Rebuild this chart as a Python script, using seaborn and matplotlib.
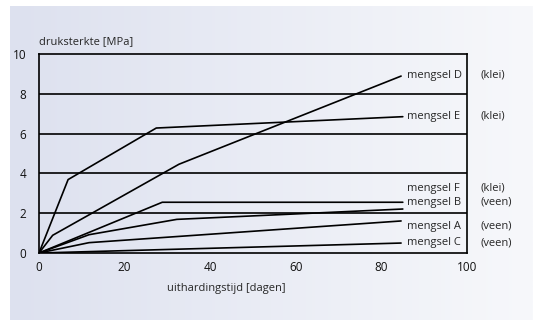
import numpy as np
import pandas as pd
import matplotlib
matplotlib.use("Agg")
import matplotlib.pyplot as plt
import seaborn as sns

mix_D_x = [0, 3.2, 32.7, 84.6]
mix_D_y = [0, 0.89, 4.46, 8.89]
mix_E_x = [0, 6.8, 27.4, 85.0]
mix_E_y = [0, 3.69, 6.28, 6.85]
mix_F_x = [0, 11.7, 32.2, 85.0]
mix_F_y = [0, 0.92, 1.69, 2.21]
mix_B_x = [0, 28.8, 85.0]
mix_B_y = [0, 2.55, 2.55]
mix_A_x = [0, 11.7, 84.6]
mix_A_y = [0, 0.52, 1.61]
mix_C_x = [0, 84.6]
mix_C_y = [0, 0.50]

label_names = ["mengsel D", "mengsel E", "mengsel F", "mengsel B", "mengsel A", "mengsel C"]
label_soil = ["(klei)", "(klei)", "(klei)", "(veen)", "(veen)", "(veen)"]
label_y = [8.92, 6.86, 3.26, 2.55, 1.34, 0.52]

x_ticks = [0, 20, 40, 60, 80, 100]
y_ticks = [0, 2, 4, 6, 8, 10]

series = {
    "D": (mix_D_x, mix_D_y),
    "E": (mix_E_x, mix_E_y),
    "F": (mix_F_x, mix_F_y),
    "B": (mix_B_x, mix_B_y),
    "A": (mix_A_x, mix_A_y),
    "C": (mix_C_x, mix_C_y),
}
rows = []
for name, (xs, ys) in series.items():
    for i, (x, y) in enumerate(zip(xs, ys)):
        rows.append({"mengsel": name, "order": i, "dagen": x, "mpa": y})
df = pd.DataFrame(rows)

sns.set_theme(style="white")
plt.rcParams["font.family"] = ["Open Sans", "DejaVu Sans"]
FS = 8

W, H = 542, 320
fig = plt.figure(figsize=(W / 100, H / 100), dpi=100)
fig.patch.set_facecolor("white")

# achtergrond met verloop
bg = fig.add_axes([10 / W, 0, 523 / W, 314 / H], zorder=0)
grad = np.linspace(0, 1, 256).reshape(1, -1)
cmap = matplotlib.colors.LinearSegmentedColormap.from_list("bg", ["#dde1ef", "#f7f8fb"])
bg.imshow(grad, aspect="auto", cmap=cmap, extent=[0, 1, 0, 1])
bg.axis("off")

ax = fig.add_axes([39 / W, (H - 253) / H, 428 / W, 199 / H], zorder=1)
ax.set_facecolor("none")

sns.lineplot(data=df, x="dagen", y="mpa", units="mengsel", estimator=None,
             sort=False, color="black", lw=1.2, ax=ax, legend=False)

for yv in y_ticks[1:-1]:
    ax.axhline(yv, color="black", lw=1.2, zorder=0.5)

ax.set_xlim(0, 100)
ax.set_ylim(0, 10)
ax.set_xticks(x_ticks)
ax.set_yticks(y_ticks)
ax.tick_params(length=0, labelsize=FS + 0.5, colors="#111111")
ax.tick_params(axis="x", pad=6)
ax.tick_params(axis="y", pad=9)
ax.set_xlabel("")
ax.set_ylabel("")
for s in ax.spines.values():
    s.set_color("black")
    s.set_linewidth(1.2)

for name, soil, yv in zip(label_names, label_soil, label_y):
    ax.text(86, yv, name, ha="left", va="center", fontsize=FS, clip_on=False)
    ax.text(103.2, yv, soil, ha="left", va="center", fontsize=FS, clip_on=False)

fig.text(39 / W, 1 - 42 / H, "druksterkte [MPa]", ha="left", va="center", fontsize=FS)
fig.text(226 / W, 1 - 289 / H, "uithardingstijd [dagen]", ha="center", va="center", fontsize=FS)

fig.savefig("out.png", dpi=100)
